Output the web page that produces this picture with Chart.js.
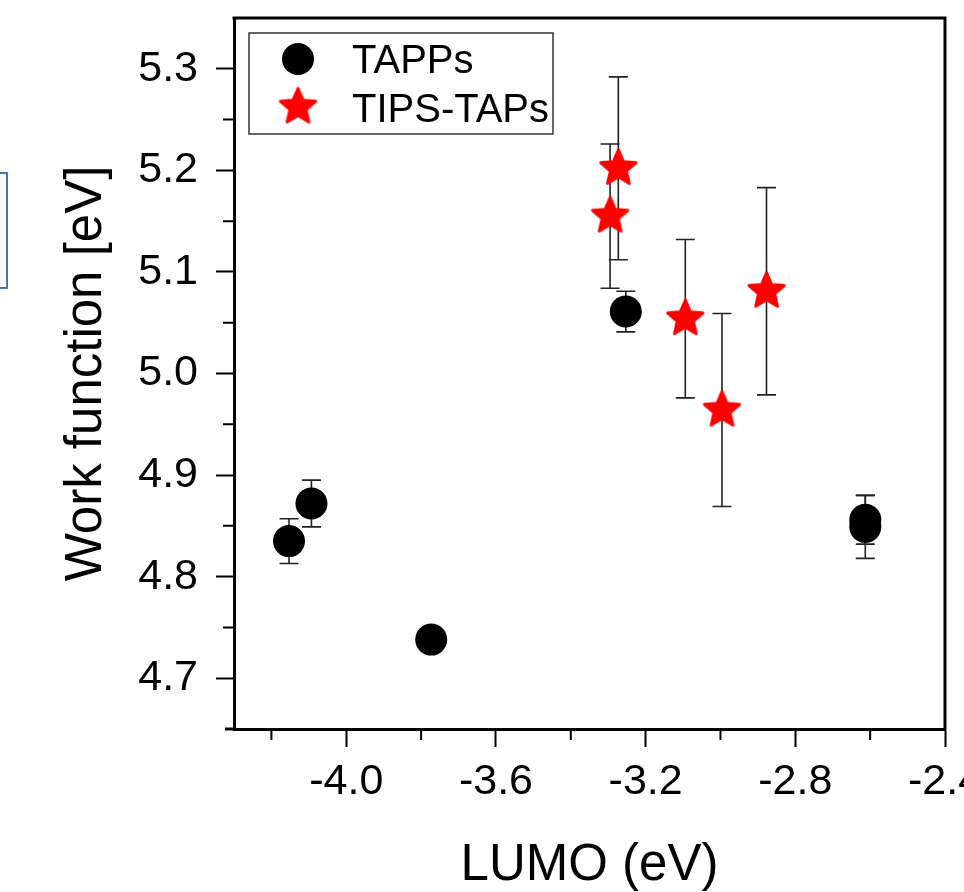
<!DOCTYPE html>
<html>
<head>
<meta charset="utf-8">
<script src="https://cdn.jsdelivr.net/npm/chart.js@4.4.1/dist/chart.umd.min.js"></script>
<style>
  body { margin: 0; background: #fff; overflow: hidden; }
  #wrap { position: relative; width: 964px; height: 892px; }
  #blueBox { position: absolute; left: -12px; top: 172px; width: 16px; height: 113px; border: 2px solid #4472c4; }
</style>
</head>
<body>
<div id="wrap">
  <canvas id="wfChart" width="964" height="892"></canvas>
  <div id="blueBox"></div>
</div>
<script>
// TAPPs (black circles)
const lumoTapps = [-4.153, -4.093, -3.773, -3.253, -2.613, -2.613];
const wfTapps = [4.835, 4.872, 4.738, 5.061, 4.856, 4.849];
const errTapps = [0.022, 0.023, 0.010, 0.020, 0.024, 0.031];

// TIPS-TAPs (red stars)
const lumoTips = [-3.295, -3.273, -3.094, -2.996, -2.877];
const wfTips = [5.155, 5.202, 5.054, 4.964, 5.081];
const errTips = [0.071, 0.090, 0.078, 0.095, 0.102];

// axis ticks
const xTicks = [-4.0, -3.6, -3.2, -2.8, -2.4];
const xMinor = [-4.2, -3.8, -3.4, -3.0, -2.6];
const yTicks = [4.7, 4.8, 4.9, 5.0, 5.1, 5.2, 5.3];
const yMinor = [4.75, 4.85, 4.95, 5.05, 5.15, 5.25];

const FONT = '"Liberation Sans", Arial, sans-serif';

// filled star used as point style
function makeStar(R, r, color) {
    const size = Math.ceil(2 * R + 6);
    const c = document.createElement('canvas');
    c.width = size; c.height = size;
    const g = c.getContext('2d');
    g.translate(size / 2, size / 2);
    g.beginPath();
    for (let i = 0; i < 10; i++) {
        const a = -Math.PI / 2 + i * Math.PI / 5;
        const rad = i % 2 ? r : R;
        g.lineTo(Math.cos(a) * rad, Math.sin(a) * rad);
    }
    g.closePath();
    g.fillStyle = color;
    g.fill();
    g.lineJoin = 'round';
    g.lineWidth = 3;
    g.strokeStyle = color;
    g.stroke();
    return c;
}
const starImg = makeStar(18.5, 8.4, '#ff0000');

const toPoints = (xs, ys) => xs.map((x, i) => ({ x: x, y: ys[i] }));

// no extra room for overhanging tick labels
function fixBox(s, w, h) {
    if (w) s.width = w;
    if (h) s.height = h;
    s.paddingTop = 0; s.paddingBottom = 0;
    s.paddingLeft = 0; s.paddingRight = 0;
}

// vertical error bars, drawn under the markers
const errorBars = {
    id: 'errorBars',
    beforeDatasetsDraw(chart) {
        const ctx = chart.ctx;
        const xs = chart.scales.x, ys = chart.scales.y;
        const sets = [[lumoTapps, wfTapps, errTapps], [lumoTips, wfTips, errTips]];
        ctx.save();
        ctx.strokeStyle = '#222';
        ctx.lineWidth = 1.6;
        sets.forEach(([lx, wy, er]) => {
            lx.forEach((v, i) => {
                const px = xs.getPixelForValue(v);
                const top = ys.getPixelForValue(wy[i] + er[i]);
                const bot = ys.getPixelForValue(wy[i] - er[i]);
                ctx.beginPath();
                ctx.moveTo(px, top); ctx.lineTo(px, bot);
                ctx.moveTo(px - 9.5, top); ctx.lineTo(px + 9.5, top);
                ctx.moveTo(px - 9.5, bot); ctx.lineTo(px + 9.5, bot);
                ctx.stroke();
            });
        });
        ctx.restore();
    }
};

// top/right frame lines, minor ticks and the boxed legend
const frameAndLegend = {
    id: 'frameAndLegend',
    afterDraw(chart) {
        const ctx = chart.ctx;
        const a = chart.chartArea;
        const xs = chart.scales.x, ys = chart.scales.y;
        ctx.save();
        ctx.strokeStyle = '#000';
        ctx.lineWidth = 3;
        ctx.beginPath();
        ctx.moveTo(a.left - 1.5, a.top);
        ctx.lineTo(a.right, a.top);
        ctx.lineTo(a.right, a.bottom + 1.5);
        ctx.moveTo(a.left - 9, a.bottom);
        ctx.lineTo(a.left, a.bottom);
        ctx.stroke();

        ctx.lineWidth = 2;
        ctx.beginPath();
        xMinor.forEach(v => {
            const px = xs.getPixelForValue(v);
            ctx.moveTo(px, a.bottom); ctx.lineTo(px, a.bottom + 11);
        });
        yMinor.forEach(v => {
            const py = ys.getPixelForValue(v);
            ctx.moveTo(a.left, py); ctx.lineTo(a.left - 11, py);
        });
        ctx.stroke();

        // legend
        ctx.strokeStyle = '#333';
        ctx.lineWidth = 1.5;
        ctx.strokeRect(249, 33, 304, 101);
        ctx.fillStyle = '#000';
        ctx.beginPath();
        ctx.arc(298, 59, 16, 0, Math.PI * 2);
        ctx.fill();
        ctx.drawImage(starImg, 298 - starImg.width / 2, 107 - starImg.height / 2);
        ctx.font = '40px ' + FONT;
        ctx.textBaseline = 'alphabetic';
        ctx.textAlign = 'left';
        ctx.fillText('TAPPs', 352, 73);
        ctx.fillText('TIPS-TAPs', 352, 122);
        ctx.restore();
    }
};

const config = {
    type: 'scatter',
    data: {
        datasets: [{
            label: 'TAPPs',
            data: toPoints(lumoTapps, wfTapps),
            pointStyle: 'circle',
            pointRadius: 16,
            pointBorderWidth: 0,
            backgroundColor: '#000',
            borderColor: '#000'
        }, {
            label: 'TIPS-TAPs',
            data: toPoints(lumoTips, wfTips),
            pointStyle: starImg,
            pointRadius: 19,
            backgroundColor: '#ff0000',
            borderColor: '#ff0000'
        }]
    },
    options: {
        responsive: false,
        animation: false,
        layout: { padding: { top: 18, right: 19, left: 0, bottom: 0 }, autoPadding: false },
        plugins: {
            legend: { display: false },
            tooltip: { enabled: false }
        },
        scales: {
            x: {
                type: 'linear',
                min: -4.3,
                max: -2.4,
                afterBuildTicks: s => { s.ticks = xTicks.map(v => ({ value: v })); },
                afterFit: s => fixBox(s, 0, 163),
                ticks: {
                    color: '#000',
                    font: { family: FONT, size: 43 },
                    padding: 9,
                    maxRotation: 0,
                    autoSkip: false,
                    callback: v => v.toFixed(1)
                },
                grid: { drawOnChartArea: false, tickLength: 18, tickWidth: 2, tickColor: '#000' },
                border: { color: '#000', width: 3 },
                title: {
                    display: true,
                    text: 'LUMO (eV)',
                    color: '#000',
                    font: { family: FONT, size: 51, lineHeight: 1 },
                    padding: { top: 0, bottom: 1 }
                }
            },
            y: {
                type: 'linear',
                min: 4.65,
                max: 5.35,
                afterBuildTicks: s => { s.ticks = yTicks.map(v => ({ value: v })); },
                afterFit: s => fixBox(s, 234, 0),
                ticks: {
                    color: '#000',
                    font: { family: FONT, size: 43 },
                    padding: 18,
                    autoSkip: false,
                    callback: v => v.toFixed(1)
                },
                grid: { drawOnChartArea: false, tickLength: 18, tickWidth: 2, tickColor: '#000' },
                border: { color: '#000', width: 3 },
                title: {
                    display: true,
                    text: 'Work function [eV]',
                    color: '#000',
                    font: { family: FONT, size: 51, lineHeight: 1 },
                    padding: { top: 61, bottom: 0 }
                }
            }
        }
    },
    plugins: [errorBars, frameAndLegend]
};

window.onload = function() {
    const ctx = document.getElementById('wfChart').getContext('2d');
    new Chart(ctx, config);
};
</script>
</body>
</html>
